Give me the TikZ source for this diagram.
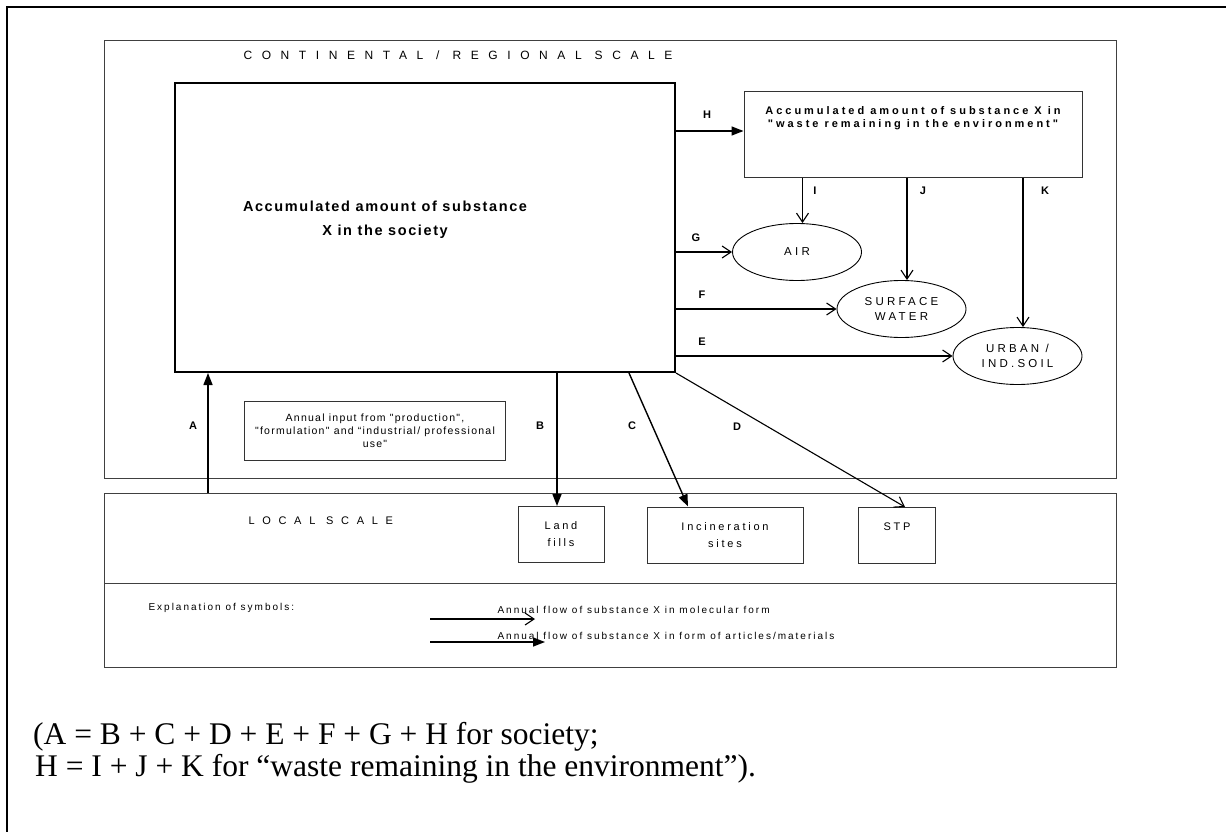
\documentclass[tikz,border=0pt]{standalone}
\usepackage{fontspec}
\setmainfont{Liberation Serif}
\setsansfont{Liberation Sans}
\newfontfamily\widesans[LetterSpace=80]{Liberation Sans}
\newfontfamily\localsans[LetterSpace=70]{Liberation Sans}
\newfontfamily\boldsans[LetterSpace=11]{Liberation Sans}
\newfontfamily\wastesans[LetterSpace=27]{Liberation Sans}
\newfontfamily\labelsans[LetterSpace=25]{Liberation Sans}
\newfontfamily\mediumsans[LetterSpace=28]{Liberation Sans}
\newfontfamily\smallsans[LetterSpace=12]{Liberation Sans}
\newfontfamily\legendsans[LetterSpace=20]{Liberation Sans}
\usetikzlibrary{shapes.geometric, arrows.meta, positioning, calc}

\begin{document}
\begin{tikzpicture}[
    x=1pt, y=-1pt,
    scalebox/.style={rectangle, draw=black!75, line width=1pt, inner sep=0pt, minimum width=1012pt},
    societybox/.style={rectangle, draw=black, line width=2pt, inner sep=0pt, minimum width=500pt, minimum height=289pt},
    wastebox/.style={rectangle, draw=black!80, line width=1pt, inner sep=0pt, minimum width=338pt, minimum height=85pt},
    sitebox/.style={rectangle, draw=black!80, line width=1pt, inner sep=0pt, minimum height=56pt, align=center, font=\labelsans\fontsize{11}{17}\selectfont},
    medium/.style={ellipse, draw=black, line width=0.9pt, minimum width=129pt, minimum height=57pt, inner sep=0pt, align=center, font=\mediumsans\fontsize{11.5}{15}\selectfont},
    flowlabel/.style={font=\sffamily\bfseries\fontsize{11}{13}\selectfont},
    legendtext/.style={font=\legendsans\fontsize{10}{11}\selectfont, anchor=west},
    balancetext/.style={font=\fontsize{31.5}{33}\selectfont, anchor=base west, inner sep=0pt},
    molarrow/.style={-{Straight Barb[length=9pt,width=12pt]}, line width=1.1pt},
    solidarrow/.style={-{Triangle[length=12pt,width=9pt]}, line width=1.4pt}
]
\useasboundingbox (0,0) rectangle (1226,832);
\draw[line width=2.5pt] (7,832) -- (7,7) -- (1226,7);

% scales
\node[scalebox, minimum height=437pt] (regional) at (610,259.5) {};
\node[font=\widesans\fontsize{12}{14}\selectfont, anchor=west] (regionaltitle) at (240,55) {CONTINENTAL / REGIONAL SCALE};
\node[scalebox, minimum height=90pt] (local) at (610,538) {};
\node[font=\localsans\fontsize{11}{13}\selectfont, anchor=west] (localtitle) at (245,521) {LOCAL SCALE};
\node[scalebox, minimum height=84pt] (legend) at (610,625) {};

% stocks
\node[societybox] (society) at (425,227.5) {};
\node[font=\boldsans\bfseries\fontsize{14.5}{24}\selectfont, align=center] (societytext) at (385,220) {Accumulated amount of substance\\X in the society};
\node[wastebox] (waste) at (913,134.5) {};
\node[font=\wastesans\bfseries\fontsize{11}{13}\selectfont, align=center] (wastetext) at (913,118) {Accumulated amount of substance X in\\"waste remaining in the environment"};
\node[rectangle, draw=black!80, line width=1pt, minimum width=261pt, minimum height=59pt, align=center, font=\smallsans\fontsize{10.5}{13}\selectfont] (input) at (375,431) {Annual input from "production",\\"formulation" and “industrial/ professional\\use"};

% compartments
\node[medium] (air) at (797,252) {AIR};
\node[medium] (water) at (901.5,309) {SURFACE\\WATER};
\node[medium] (soil) at (1017.5,356) {URBAN /\\IND.SOIL};
\node[sitebox, minimum width=86pt] (landfill) at (561,534.5) {Land\\fills};
\node[sitebox, minimum width=156pt] (incineration) at (725,535) {Incineration\\sites};
\node[sitebox, minimum width=77pt] (stp) at (897,535.5) {STP\\\mbox{}};

% flows
\coordinate (ain) at ([xshift=-217pt]society.south);
\coordinate (bin) at ([xshift=-4pt]landfill.north);
\coordinate (hin) at ([yshift=3.5pt]waste.west);
\draw[solidarrow] (local.north -| ain) -- (ain);
\draw[solidarrow] (society.south -| bin) -- (bin);
\draw[solidarrow] ([xshift=-47pt]society.south east) -- ([xshift=-37pt]incineration.north);
\draw[molarrow] (society.south east) -- ([xshift=8pt]stp.north);
\draw[molarrow] (society.east |- soil.west) -- (soil.west);
\draw[molarrow] (society.east |- water.west) -- (water.west);
\draw[molarrow] (society.east |- air.west) -- (air.west);
\draw[solidarrow] (society.east |- hin) -- (hin);
\coordinate (iin) at ([xshift=5.5pt]air.north);
\coordinate (jin) at ([xshift=5.5pt]water.north);
\coordinate (kin) at ([xshift=5.5pt]soil.north);
\draw[molarrow] (iin |- waste.south) -- (iin);
\draw[molarrow] (jin |- waste.south) -- (jin);
\draw[molarrow] (kin |- waste.south) -- (kin);

\node[flowlabel] (la) at (193,426) {A};
\node[flowlabel] (lb) at (540,426) {B};
\node[flowlabel] (lc) at (632,426) {C};
\node[flowlabel] (ld) at (737,427) {D};
\node[flowlabel] (le) at (702,342) {E};
\node[flowlabel] (lf) at (702,295) {F};
\node[flowlabel] (lg) at (696,238) {G};
\node[flowlabel] (lh) at (707,115) {H};
\node[flowlabel] (li) at (815,191) {I};
\node[flowlabel] (lj) at (923,191) {J};
\node[flowlabel] (lk) at (1045,191) {K};

% legend
\node[legendtext] (legendtitle) at (145,608) {Explanation of symbols:};
\coordinate (molstart) at (430,619);
\coordinate (molend) at (535,619);
\draw[molarrow] (molstart) -- (molend);
\node[legendtext] (moltext) at (494,610) {Annual flow of substance X in molecular form};
\coordinate (artstart) at (430,642);
\coordinate (artend) at (545,642);
\draw[solidarrow] (artstart) -- (artend);
\node[legendtext] (arttext) at (494,636) {Annual flow of substance X in form of articles/materials};

\node[balancetext] (balanceone) at (33,744) {(A = B + C + D + E + F + G + H for society;};
\node[balancetext] (balancetwo) at (35,776) {H = I + J + K for “waste remaining in the environment”).};
\end{tikzpicture}
\end{document}
